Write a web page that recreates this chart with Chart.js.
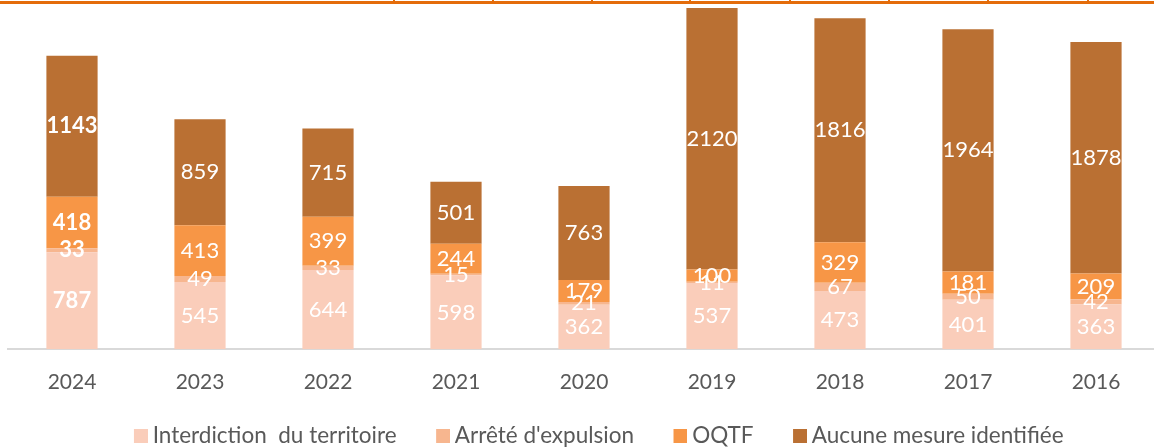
<!DOCTYPE html>
<html>
<head>
<meta charset="utf-8">
<script src="https://cdn.jsdelivr.net/npm/chart.js@4"></script>
<style>
  html, body { margin: 0; padding: 0; background: #fff; overflow: hidden; }
  #wrap { width: 1162px; height: 448px; }
</style>
</head>
<body>
<div id="wrap"><canvas id="bars" width="1162" height="448"></canvas></div>
<script>
const years = ['2024', '2023', '2022', '2021', '2020', '2019', '2018', '2017', '2016'];
const interdiction = [787, 545, 644, 598, 362, 537, 473, 401, 363];
const arrete = [33, 49, 33, 15, 21, 11, 67, 50, 42];
const oqtf = [418, 413, 399, 244, 179, 100, 329, 181, 209];
const aucune = [1143, 859, 715, 501, 763, 2120, 1816, 1964, 1878];
const boldYears = ['2024'];

const FONT = 'Lato, "Open Sans", sans-serif';
const colors = ['#FACDBA', '#F7B68F', '#F79646', '#BA7033'];

// legend swatch: small square sitting at the right end of a wider slot
function swatch(color) {
  const cv = document.createElement('canvas');
  cv.width = 50;
  cv.height = 14;
  const g = cv.getContext('2d');
  g.fillStyle = color;
  g.fillRect(36, 0, 14, 14);
  return cv;
}

// white value labels in the middle of each segment
const segLabels = {
  id: 'segLabels',
  afterDatasetsDraw(chart) {
    const c = chart.ctx;
    c.save();
    c.fillStyle = '#ffffff';
    c.textAlign = 'center';
    c.textBaseline = 'middle';
    chart.data.datasets.forEach((ds, i) => {
      chart.getDatasetMeta(i).data.forEach((bar, j) => {
        const bold = boldYears.includes(chart.data.labels[j]);
        c.font = (bold ? 'bold ' : '') + '22px ' + FONT;
        const mid = (bar.y + bar.base) / 2;
        c.fillText(ds.data[j], bar.x, mid);
      });
    });
    c.restore();
  }
};

// orange rule at the very top (cut-off table border)
const topRule = {
  id: 'topRule',
  afterDraw(chart) {
    const c = chart.ctx;
    c.save();
    c.fillStyle = '#E46C0A';
    c.fillRect(0, 1, chart.width, 3);
    [394, 493, 592, 690, 790, 889, 988, 1088].forEach(x => c.fillRect(x - 1, 0, 2, 3));
    c.restore();
  }
};

const ctx = document.getElementById('bars');
const chart = new Chart(ctx, {
  type: 'bar',
  data: {
    labels: years,
    datasets: [
      { label: 'Interdiction  du territoire', data: interdiction, backgroundColor: colors[0] },
      { label: "Arrêté d'expulsion", data: arrete, backgroundColor: colors[1] },
      { label: 'OQTF', data: oqtf, backgroundColor: colors[2] },
      { label: 'Aucune mesure identifiée', data: aucune, backgroundColor: colors[3] }
    ]
  },
  options: {
    responsive: false,
    devicePixelRatio: 1,
    animation: false,
    layout: { padding: { left: 8, right: 2, top: 0, bottom: -9 } },
    datasets: {
      bar: { categoryPercentage: 1, barPercentage: 0.4, borderWidth: 0 }
    },
    scales: {
      x: {
        stacked: true,
        grid: { display: false, drawTicks: false },
        border: { color: '#D9D9D9', width: 2 },
        ticks: { color: '#595959', font: { family: FONT, size: 21 }, padding: 20 }
      },
      y: {
        stacked: true,
        display: false,
        min: 0,
        max: 2833
      }
    },
    plugins: {
      legend: {
        position: 'bottom',
        labels: {
          color: '#595959',
          font: { family: FONT, size: 22.5 },
          usePointStyle: true,
          pointStyleWidth: 37,
          boxHeight: 14,
          padding: 10,
          generateLabels(chart) {
            const items = Chart.defaults.plugins.legend.labels.generateLabels(chart);
            items.forEach((it, i) => { it.pointStyle = swatch(colors[i]); });
            return items;
          }
        }
      },
      tooltip: { enabled: false }
    }
  },
  plugins: [segLabels, topRule]
});
</script>
</body>
</html>
